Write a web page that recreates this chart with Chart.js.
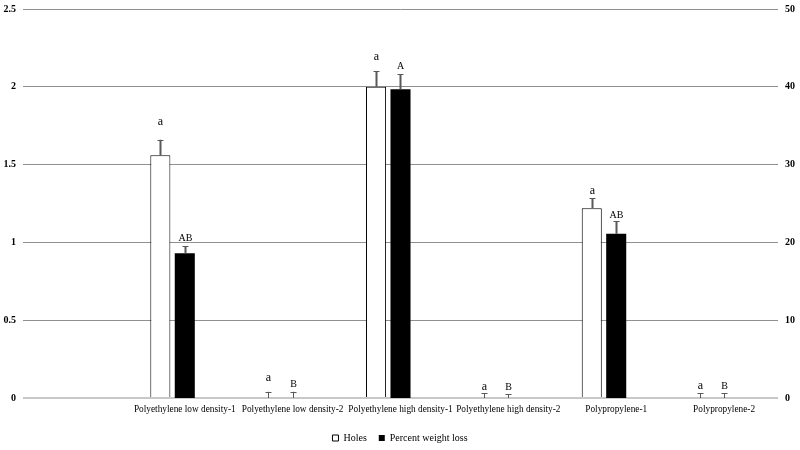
<!DOCTYPE html>
<html>
<head>
<meta charset="utf-8">
<script src="https://cdn.jsdelivr.net/npm/chart.js@4/dist/chart.umd.min.js"></script>
<style>
  html, body { margin: 0; padding: 0; background: #ffffff; }
  #wrap { width: 800px; height: 450px; position: relative; }
</style>
</head>
<body>
<div id="wrap"><canvas id="c"></canvas></div>
<script>
const categories = ['', 'Polyethylene low density-1', 'Polyethylene low density-2', 'Polyethylene high density-1', 'Polyethylene high density-2', 'Polypropylene-1', 'Polypropylene-2'];
const holes = [null, 1.56, 0, 2.0, 0, 1.22, 0];
const holesErr = [null, 0.1, 0.04, 0.1, 0.03, 0.065, 0.03];
const weightLoss = [null, 18.6, 0, 39.7, 0, 21.1, 0];
const weightLossErr = [null, 0.9, 0.8, 1.9, 0.5, 1.6, 0.6];
const holesLetters = ['', 'a', 'a', 'a', 'a', 'a', 'a'];
const weightLossLetters = ['', 'AB', 'B', 'A', 'B', 'AB', 'B'];
const leftTickLabels = ['0', '0.5', '1', '1.5', '2', '2.5'];
const rightTickLabels = ['0', '10', '20', '30', '40', '50'];

const SERIF = '"Liberation Serif", "Times New Roman", serif';

const errorBarPlugin = {
  id: 'errorBars',
  afterDatasetsDraw(chart, args, opts) {
    const ctx = chart.ctx;
    const sets = [
      { i: 0, err: holesErr, letters: holesLetters, lift: opts.holesLift, font: 'normal 12px ' + SERIF },
      { i: 1, err: weightLossErr, letters: weightLossLetters, lift: opts.lossLift, font: 'normal 10px ' + SERIF }
    ];
    ctx.save();
    sets.forEach(s => {
      const meta = chart.getDatasetMeta(s.i);
      const ds = chart.data.datasets[s.i];
      const scale = chart.scales[ds.yAxisID];
      meta.data.forEach((el, k) => {
        const v = ds.data[k];
        if (v === null || v === undefined) return;
        const e = s.err[k] || 0;
        const y0 = scale.getPixelForValue(v);
        const y1 = scale.getPixelForValue(v + e);
        const x = Math.round(el.x) + 0.5;
        ctx.strokeStyle = '#595959';
        ctx.lineWidth = v > 0 ? 2 : 1;
        ctx.beginPath();
        ctx.moveTo(x, y0);
        ctx.lineTo(x, y1);
        ctx.stroke();
        ctx.lineWidth = 1;
        ctx.beginPath();
        ctx.moveTo(x - 3, Math.round(y1) + 0.5);
        ctx.lineTo(x + 3, Math.round(y1) + 0.5);
        ctx.stroke();
        if (s.letters[k]) {
          ctx.fillStyle = '#000000';
          ctx.font = s.font;
          ctx.textAlign = 'center';
          ctx.textBaseline = 'middle';
          ctx.fillText(s.letters[k], x, y1 - s.lift[k]);
        }
      });
    });
    ctx.restore();
  }
};

new Chart(document.getElementById('c'), {
  type: 'bar',
  data: {
    labels: categories,
    datasets: [
      {
        label: 'Holes',
        data: holes,
        yAxisID: 'y',
        backgroundColor: '#ffffff',
        borderColor: '#000000',
        borderWidth: 1
      },
      {
        label: 'Percent weight loss',
        data: weightLoss,
        yAxisID: 'y1',
        backgroundColor: '#000000',
        borderColor: '#000000',
        borderWidth: 0
      },
      {
        label: '',
        data: categories.map(() => null),
        yAxisID: 'y',
        backgroundColor: 'rgba(0,0,0,0)'
      }
    ]
  },
  options: {
    responsive: true,
    maintainAspectRatio: false,
    animation: false,
    categoryPercentage: 0.68,
    barPercentage: 0.82,
    layout: { padding: { top: 9, bottom: -3, left: 0, right: 0 } },
    plugins: {
      tooltip: { enabled: false },
      errorBars: {
        holesLift: [0, 18, 14, 14, 6, 7, 7],
        lossLift: [0, 8, 7, 8, 7, 6, 7]
      },
      legend: {
        position: 'bottom',
        labels: {
          color: '#000000',
          font: { family: SERIF, size: 10 },
          boxWidth: 6,
          boxHeight: 6,
          padding: 12,
          filter: (item) => item.text !== ''
        }
      }
    },
    scales: {
      x: {
        grid: { display: false, drawTicks: false },
        border: { display: false },
        ticks: {
          color: '#000000',
          font: { family: SERIF, size: 9.3 },
          maxRotation: 0,
          autoSkip: false,
          padding: 6
        },
        afterFit: (s) => { s.height = 23; }
      },
      y: {
        position: 'left',
        min: 0,
        max: 2.5,
        ticks: {
          stepSize: 0.5,
          color: '#000000',
          font: { family: SERIF, size: 10, weight: 'bold' },
          padding: 7,
          callback: (v, i) => leftTickLabels[i]
        },
        grid: {
          drawTicks: false,
          color: (c) => c.tick && c.tick.value === 0 ? '#c8c8c8' : '#909090',
          lineWidth: (c) => c.tick && c.tick.value === 0 ? 2 : 1
        },
        border: { display: false },
        afterFit: (s) => { s.width = 23; s.paddingTop = 0; s.paddingBottom = 0; }
      },
      y1: {
        position: 'right',
        min: 0,
        max: 50,
        ticks: {
          stepSize: 10,
          color: '#000000',
          font: { family: SERIF, size: 10, weight: 'bold' },
          padding: 7,
          callback: (v, i) => rightTickLabels[i]
        },
        grid: { display: false, drawTicks: false },
        border: { display: false },
        afterFit: (s) => { s.width = 22; s.paddingTop = 0; s.paddingBottom = 0; }
      }
    }
  },
  plugins: [errorBarPlugin]
});
</script>
</body>
</html>
